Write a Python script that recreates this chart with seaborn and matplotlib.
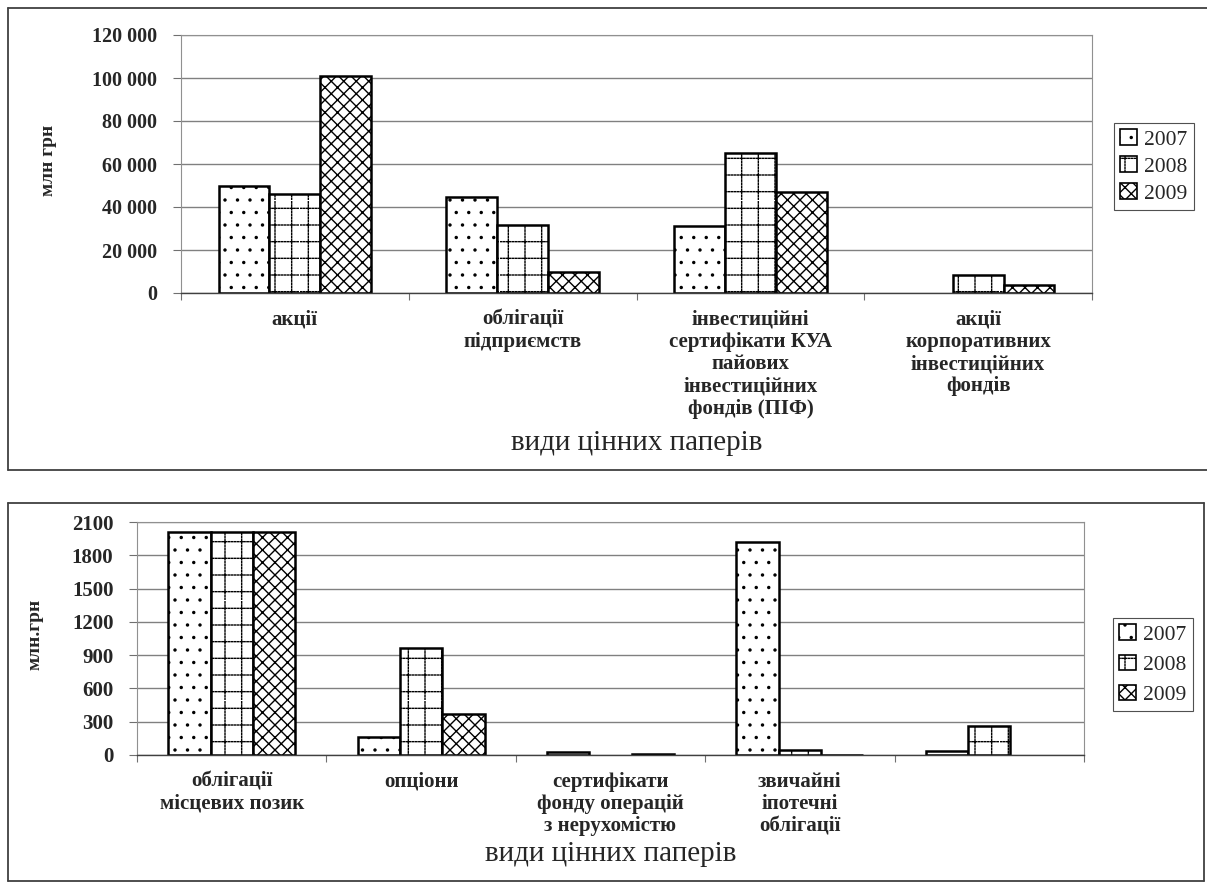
import matplotlib
matplotlib.use("Agg")
import matplotlib.pyplot as plt
import matplotlib.patches as mpatches
import matplotlib.hatch as mhatch
from matplotlib.path import Path
from matplotlib.lines import Line2D
import numpy as np
import pandas as pd
import seaborn as sns

# ---------------- data ----------------
years = ["2007", "2008", "2009"]

top_categories = [
    "акції",
    "облігації\nпідприємств",
    "інвестиційні\nсертифікати КУА\nпайових\nінвестиційних\nфондів (ПІФ)",
    "акції\nкорпоративних\nінвестиційних\nфондів",
]
top_2007 = [50000, 44500, 31000, 0]
top_2008 = [46000, 31500, 65000, 8500]
top_2009 = [101000, 9700, 47000, 3900]
top_yticks = [0, 20000, 40000, 60000, 80000, 100000, 120000]
top_yticklabels = ["0", "20 000", "40 000", "60 000", "80 000", "100 000", "120 000"]

bot_categories = [
    "облігації\nмісцевих позик",
    "опціони",
    "сертифікати\nфонду операцій\nз нерухомістю",
    "звичайні\nіпотечні\nоблігації",
    " ",
]
bot_2007 = [2010, 160, 30, 1920, 38]
bot_2008 = [2010, 965, 0, 45, 260]
bot_2009 = [2010, 370, 5, 3, 0]
bot_yticks = [0, 300, 600, 900, 1200, 1500, 1800, 2100]
bot_yticklabels = ["0", "300", "600", "900", "1200", "1500", "1800", "2100"]

x_title = "види цінних паперів"
top_ylabel = "млн грн"
bot_ylabel = "млн.грн"

hatches = [".", "+", "x"]


# ---------------- finer hatch patterns (style only) ----------------
class TinyDots(mhatch.Circles):
    size = 0.08
    filled = True

    def __init__(self, hatch, density):
        self.num_rows = int(hatch.count('.') * density * 1.35)
        super().__init__(hatch, density)


def _diag_count(n):
    n = int(n)
    return n + (n % 2)


class DenseNE(mhatch.NorthEastHatch):
    def __init__(self, hatch, density):
        super().__init__(hatch, density)
        self.num_lines = _diag_count((hatch.count('/') + hatch.count('x') + hatch.count('X'))
                                     * density * 8 / 3)
        self.num_vertices = (self.num_lines + 1) * 2 if self.num_lines else 0


class DenseSE(mhatch.SouthEastHatch):
    def __init__(self, hatch, density):
        super().__init__(hatch, density)
        self.num_lines = _diag_count((hatch.count('\\') + hatch.count('x') + hatch.count('X'))
                                     * density * 8 / 3)
        self.num_vertices = (self.num_lines + 1) * 2 if self.num_lines else 0


class _DottedLines(mhatch.HatchPatternBase):
    segs = 32
    seg_len = 0.014
    horizontal = True

    def __init__(self, hatch, density):
        self.num_lines = int((hatch.count('+') + hatch.count('-' if self.horizontal else '|'))
                             * density)
        self.num_vertices = self.num_lines * self.segs * 2

    def set_vertices_and_codes(self, vertices, codes):
        steps, stepsize = np.linspace(0.0, 1.0, self.num_lines, False, retstep=True)
        steps += stepsize / 2.0
        starts = np.arange(self.segs) / self.segs
        lines = np.repeat(steps, self.segs)
        s = np.tile(starts, self.num_lines)
        e = s + self.seg_len
        if self.horizontal:
            vertices[0::2, 0] = s
            vertices[0::2, 1] = lines
            vertices[1::2, 0] = e
            vertices[1::2, 1] = lines
        else:
            vertices[0::2, 0] = lines
            vertices[0::2, 1] = s
            vertices[1::2, 0] = lines
            vertices[1::2, 1] = e
        codes[0::2] = Path.MOVETO
        codes[1::2] = Path.LINETO


class DottedH(_DottedLines):
    horizontal = True


class DottedV(_DottedLines):
    horizontal = False


_new_types = []
for t in mhatch._hatch_types:
    if t is mhatch.SmallFilledCircles:
        _new_types.append(TinyDots)
    elif t is mhatch.NorthEastHatch:
        _new_types.append(DenseNE)
    elif t is mhatch.SouthEastHatch:
        _new_types.append(DenseSE)
    elif t is mhatch.HorizontalHatch:
        _new_types.append(DottedH)
    elif t is mhatch.VerticalHatch:
        _new_types.append(DottedV)
    else:
        _new_types.append(t)
mhatch._hatch_types[:] = _new_types

# ---------------- style ----------------
sns.set_theme(style="white")
plt.rcParams["font.family"] = ["Liberation Serif", "DejaVu Serif"]
plt.rcParams["hatch.linewidth"] = 1.0
plt.rcParams["hatch.color"] = "black"

W, H = 1207, 883
fig = plt.figure(figsize=(W / 100, H / 100), dpi=100)
fig.patch.set_facecolor("white")


def fx(x):
    return x / W


def fy(y):
    return 1 - y / H


def long_df(cats, series):
    rows = []
    for yr, vals in zip(years, series):
        for c, v in zip(cats, vals):
            rows.append({"cat": c, "year": yr, "val": v})
    return pd.DataFrame(rows)


def draw_panel(ax, cats, series, yticks, yticklabels, ylim, ylabel,
               tick_fs, cat_fs, ylabel_coords, xlabel_y, legend_anchor, legend_spacing):
    df = long_df(cats, series)
    sns.barplot(data=df, x="cat", y="val", hue="year", order=cats, hue_order=years,
                palette=["white"] * 3, saturation=1, edgecolor="black", linewidth=1.8,
                width=0.67, errorbar=None, legend=False, ax=ax)
    for cont, h in zip(ax.containers, hatches):
        for bar in cont:
            bar.set_hatch(h)
            if bar.get_height() == 0:
                bar.set_visible(False)
    ax.set_ylim(*ylim)
    ax.set_xlim(-0.5, len(cats) - 0.5)
    ax.set_yticks(yticks)
    ax.set_yticklabels(yticklabels, fontsize=tick_fs, fontweight="bold")
    ax.set_xticks(range(len(cats)))
    ax.set_xticklabels(cats, fontsize=cat_fs, fontweight="bold", linespacing=1.15)
    ax.set_xticks(np.arange(len(cats) + 1) - 0.5, minor=True)
    ax.tick_params(axis="x", which="major", length=0, pad=12)
    ax.tick_params(axis="x", which="minor", length=5, width=0.8, color="#707070",
                   direction="out", bottom=True)
    ax.tick_params(axis="y", which="major", length=6, width=0.8, color="#707070",
                   direction="out", left=True, pad=11)
    ax.set_axisbelow(True)
    ax.yaxis.grid(True, color="#808080", linewidth=1.0)
    ax.xaxis.grid(False)
    for side in ["left", "top", "right"]:
        ax.spines[side].set_visible(True)
        ax.spines[side].set_color("#909090")
        ax.spines[side].set_linewidth(0.8)
    ax.spines["bottom"].set_color("#404040")
    ax.spines["bottom"].set_linewidth(1.0)
    ax.set_facecolor("white")

    ax.set_ylabel(ylabel, fontsize=14, fontweight="bold")
    ax.yaxis.label.set_va("center")
    ax.yaxis.set_label_coords(*ylabel_coords)
    ax.set_xlabel(x_title, fontsize=21)
    ax.xaxis.label.set_va("center")
    ax.xaxis.set_label_coords(0.5, xlabel_y)

    handles = [mpatches.Patch(facecolor="white", edgecolor="black", linewidth=1.2, hatch=h)
               for h in hatches]
    leg = ax.legend(handles, years, loc="upper left", bbox_to_anchor=legend_anchor,
                    bbox_transform=fig.transFigure, fontsize=15.5, frameon=True,
                    fancybox=False, shadow=False, framealpha=1, edgecolor="#505050",
                    handlelength=0.75, handleheight=0.75, handletextpad=0.35,
                    labelspacing=legend_spacing, borderpad=0.3, borderaxespad=0)
    leg.get_frame().set_linewidth(0.8)


# top panel
ax1 = fig.add_axes([fx(181), fy(293), fx(1092) - fx(181), fy(35) - fy(293)])
draw_panel(ax1, top_categories, [top_2007, top_2008, top_2009], top_yticks,
           top_yticklabels, (0, 120000), top_ylabel, 14.5, 15,
           ((49 - 181) / 911, (293 - 160) / 258), (293 - 443) / 258,
           (fx(1114), fy(123)), 0.3)

# bottom panel
ax2 = fig.add_axes([fx(137), fy(755), fx(1084) - fx(137), fy(522) - fy(755)])
draw_panel(ax2, bot_categories, [bot_2007, bot_2008, bot_2009], bot_yticks,
           bot_yticklabels, (0, 2100), bot_ylabel, 15, 15,
           ((35 - 137) / 947, (755 - 634) / 233), (755 - 854) / 233,
           (fx(1113), fy(618)), 0.45)

# outer frames
frame_kw = dict(color="#404040", linewidth=1.3, transform=fig.transFigure)
fig.add_artist(Line2D([fx(8), fx(1207)], [fy(8), fy(8)], **frame_kw))
fig.add_artist(Line2D([fx(8), fx(8)], [fy(8), fy(470)], **frame_kw))
fig.add_artist(Line2D([fx(8), fx(1207)], [fy(470), fy(470)], **frame_kw))
fig.add_artist(Line2D([fx(8), fx(1204)], [fy(503), fy(503)], **frame_kw))
fig.add_artist(Line2D([fx(8), fx(8)], [fy(503), fy(881)], **frame_kw))
fig.add_artist(Line2D([fx(8), fx(1204)], [fy(881), fy(881)], **frame_kw))
fig.add_artist(Line2D([fx(1204), fx(1204)], [fy(503), fy(881)], **frame_kw))

fig.savefig("out.png", dpi=100, facecolor="white")
